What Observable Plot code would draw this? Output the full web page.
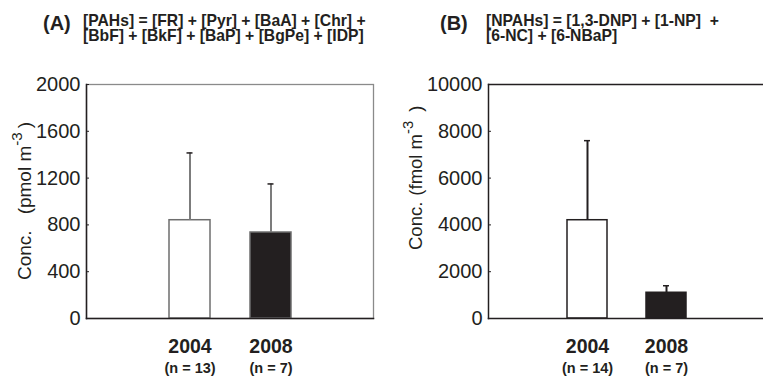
<!DOCTYPE html>
<html>
<head>
<meta charset="utf-8">
<script src="https://cdn.jsdelivr.net/npm/d3@7"></script>
<script src="https://cdn.jsdelivr.net/npm/@observablehq/plot@0.6"></script>
<style>
  body { margin: 0; background: #fff; }
  #wrap { position: relative; width: 763px; height: 377px; overflow: hidden;
          font-family: "Liberation Sans", Arial, sans-serif; color: #231f20; }
  .tag { position: absolute; font-weight: bold; font-size: 20px; line-height: 20px; white-space: pre; }
  .eq { position: absolute; font-weight: bold; font-size: 15.7px; line-height: 15px; white-space: pre; }
  .panel { position: absolute; top: 50px; }
</style>
</head>
<body>
<div id="wrap">
  <div class="tag" style="left:43px; top:13px">(A)</div>
  <div class="eq" style="left:83px; top:13px">[PAHs] = [FR] + [Pyr] + [BaA] + [Chr] +
[BbF] + [BkF] + [BaP] + [BgPe] + [IDP]</div>
  <div class="tag" style="left:440px; top:13px">(B)</div>
  <div class="eq" style="left:486px; top:13px">[NPAHs] = [1,3-DNP] + [1-NP]  +
[6-NC] + [6-NBaP]</div>
  <div class="panel" id="A" style="left:0px"></div>
  <div class="panel" id="B" style="left:390px"></div>
</div>
<script>
// ---- data ----
const years = ["2004", "2008"];
const nLabelsA = ["(n = 13)", "(n = 7)"];
const nLabelsB = ["(n = 14)", "(n = 7)"];
const pahMean = [840, 735];
const pahSD = [575, 415];
const npahMean = [4200, 1100];
const npahSD = [3400, 300];
const ticksA = [0, 400, 800, 1200, 1600, 2000];
const ticksB = [0, 2000, 4000, 6000, 8000, 10000];

const ink = "#231f20";
const font = "'Liberation Sans', Arial, sans-serif";

function rows(means, sds, nLabels) {
  return years.map((y, i) => ({year: y, mean: means[i], sd: sds[i], n: nLabels[i]}));
}

function panel({data, ticks, yMax, width, marginLeft, marginRight, insetLeft, insetRight, padding,
                frameGray, lineColor, errColor, capInset}) {
  const marks = [];
  if (frameGray) marks.push(Plot.frame({stroke: frameGray, strokeWidth: 1.3}));
  else marks.push(Plot.frame({anchor: "top", stroke: ink, strokeWidth: 1.3}));
  marks.push(
    Plot.barY(data, {x: "year", y: "mean", fill: "year", stroke: lineColor, strokeWidth: 1.5}),
    Plot.ruleX(data, {x: "year", y1: "mean", y2: d => d.mean + d.sd, stroke: errColor, strokeWidth: 2}),
    Plot.tickY(data, {x: "year", y: d => d.mean + d.sd, stroke: ink, strokeWidth: 1.5,
                      insetLeft: capInset, insetRight: capInset}),
    Plot.frame({anchor: "left", stroke: ink, strokeWidth: 1.5}),
    Plot.frame({anchor: "bottom", stroke: ink, strokeWidth: 1.5}),
    Plot.axisY({ticks, tickSize: -3, fill: "none", stroke: ink}),
    Plot.axisY({ticks, tickSize: 0, tickPadding: 6, fontSize: 20, fill: ink, tickFormat: d3.format("d")}),
    Plot.axisX({tickSize: 0, tickPadding: 21, fontSize: 19.5, fontWeight: "bold", fill: ink}),
    Plot.text(data, {x: "year", text: "n", frameAnchor: "bottom", dy: 54, fontSize: 14.5,
                     fontWeight: "bold", fill: ink})
  );
  return Plot.plot({
    width, height: 327,
    marginTop: 34, marginBottom: 59, marginLeft, marginRight,
    style: {fontFamily: font, color: ink, background: "white", overflow: "visible"},
    x: {type: "band", domain: years, padding, insetLeft, insetRight, label: null},
    y: {domain: [0, yMax], label: null},
    color: {domain: years, range: ["#ffffff", ink]},
    marks
  });
}

function yLabel(svg, x, y, size, gap, unit, closeGap) {
  const t = d3.select(svg).append("text")
    .attr("transform", `translate(${x},${y}) rotate(-90)`)
    .attr("text-anchor", "start")
    .attr("font-family", font).attr("font-size", size).attr("fill", ink);
  t.append("tspan").text("Conc.");
  t.append("tspan").attr("dx", gap).text(`(${unit} m`);
  t.append("tspan").attr("dy", -9).attr("font-size", size * 0.8).text("-3");
  t.append("tspan").attr("dy", 9).attr("dx", closeGap).text(")");
}

const svgA = panel({
  data: rows(pahMean, pahSD, nLabelsA), ticks: ticksA, yMax: 2000,
  width: 380, marginLeft: 86, marginRight: 7, insetLeft: 42, insetRight: 41, padding: 0.49,
  frameGray: "#8a8a8a", lineColor: "#6e6e6e", errColor: "#7c7c7c", capInset: 17.5
});
yLabel(svgA, 31, 230, 19, 16, "pmol", 4);
document.getElementById("A").appendChild(svgA);

const svgB = panel({
  data: rows(npahMean, npahSD, nLabelsB), ticks: ticksB, yMax: 10000,
  width: 373, marginLeft: 98, marginRight: 0, insetLeft: 39, insetRight: 38, padding: 0.5,
  frameGray: null, lineColor: ink, errColor: ink, capInset: 17
});
yLabel(svgB, 32, 200, 18.5, 6, "fmol", 9);
document.getElementById("B").appendChild(svgB);
</script>
</body>
</html>
